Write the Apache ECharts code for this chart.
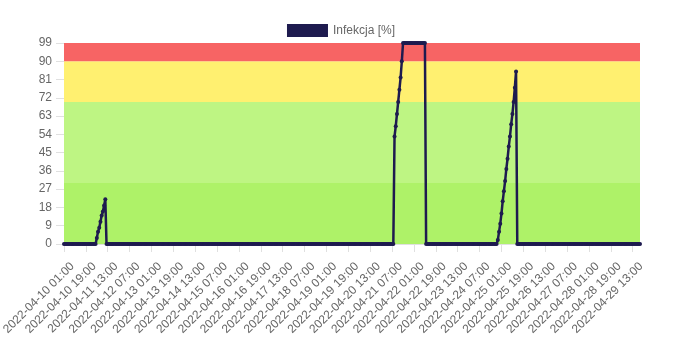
<!DOCTYPE html>
<html>
<head>
<meta charset="utf-8">
<script src="https://cdn.jsdelivr.net/npm/echarts@6/dist/echarts.min.js"></script>
<style>html,body{margin:0;padding:0;background:#fff}#c{width:682px;height:341px}</style>
</head>
<body>
<div id="c"></div>
<script>
// Hourly categories from 2022-04-10 01:00
const startUTC = Date.UTC(2022, 3, 10, 1, 0);
const hourCount = 475;
const categories = [];
for (let i = 0; i < hourCount; i++) {
  const d = new Date(startUTC + i * 3600000);
  const p = n => String(n).padStart(2, '0');
  categories.push(d.getUTCFullYear() + '-' + p(d.getUTCMonth() + 1) + '-' + p(d.getUTCDate()) + ' ' + p(d.getUTCHours()) + ':00');
}

// Non-zero runs (all other hours are 0)
const peak1Start = 27;
const peak1Values = [3, 6, 8, 11, 14, 16, 19, 22];
const peak2Start = 272;
const peak2Values = [53, 58, 64, 70, 76, 82, 90, 99, 99, 99, 99, 99, 99, 99, 99, 99, 99, 99, 99, 99, 99, 99, 99, 99, 99, 99];
const peak3Start = 357;
const peak3Values = [2, 6, 10, 15, 21, 26, 31, 37, 42, 48, 53, 59, 64, 70, 77, 85];

const yTicks = [0, 9, 18, 27, 36, 45, 54, 63, 72, 81, 90, 99];
const bands = [
  { from: 0, to: 30, color: '#aef268' },
  { from: 30, to: 70, color: '#bef583' },
  { from: 70, to: 90, color: '#fff070' },
  { from: 90, to: 99, color: '#f76464' }
];

const values = new Array(hourCount).fill(0);
[[peak1Start, peak1Values], [peak2Start, peak2Values], [peak3Start, peak3Values]].forEach(([s, arr]) => {
  arr.forEach((v, k) => { values[s + k] = v; });
});

const font = 'Liberation Sans, Arial, Helvetica, sans-serif';
const chart = echarts.init(document.getElementById('c'), null, { renderer: 'canvas' });
chart.setOption({
  animation: false,
  textStyle: { fontFamily: font },
  legend: {
    top: 19, left: 'center',
    icon: 'rect', itemWidth: 41, itemHeight: 13, itemGap: 5,
    textStyle: { color: '#666', fontSize: 12, fontFamily: font },
    data: [{ name: 'Infekcja [%]', itemStyle: { color: '#1e1b4f' } }]
  },
  grid: { left: 64, right: 42, top: 43, bottom: 97, containLabel: false, outerBoundsMode: 'none' },
  xAxis: {
    type: 'category',
    data: categories,
    boundaryGap: false,
    axisLine: { show: true, lineStyle: { color: '#e0e0e0' } },
    axisTick: { show: true, interval: 17, length: 8, lineStyle: { color: '#e0e0e0' } },
    axisLabel: { interval: 17, rotate: 45, color: '#666', fontSize: 12, fontFamily: font, margin: 12, verticalAlign: 'top', padding: [6, 0, 0, 0] },
    splitLine: { show: false }
  },
  yAxis: {
    type: 'value',
    min: 0, max: 99, interval: 9,
    axisLine: { show: false },
    axisTick: { show: true, length: 8, lineStyle: { color: '#e0e0e0' } },
    axisLabel: { color: '#666', fontSize: 12, fontFamily: font, margin: 12 },
    splitLine: { show: false }
  },
  series: [{
    name: 'Infekcja [%]',
    type: 'line',
    data: values,
    symbol: 'circle',
    symbolSize: 4,
    showAllSymbol: true,
    lineStyle: { color: '#1e1b4f', width: 2.5 },
    itemStyle: { color: '#1e1b4f' },
    markArea: {
      silent: true,
      data: bands.map(b => [{ yAxis: b.from, itemStyle: { color: b.color, opacity: 1 } }, { yAxis: b.to }])
    }
  }]
});
</script>
</body>
</html>
